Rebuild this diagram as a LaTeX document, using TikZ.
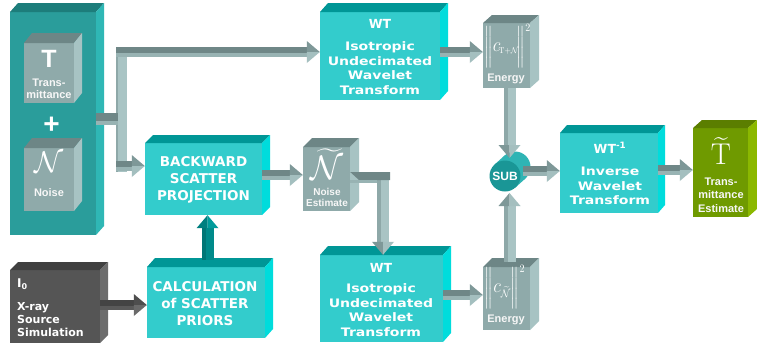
\RequirePackage{fix-cm}
\documentclass[tikz,border=0pt]{standalone}
\usepackage{amsmath}
\usepackage[no-math]{fontspec}
\setmainfont{DejaVu Sans}
\newfontfamily\arl{Liberation Sans}
\newfontfamily\wfont{DejaVu Sans}[FakeStretch=1.2]
\usetikzlibrary{calc,fit}
% box colours: F front, T top, S side
\definecolor{tlF}{HTML}{33CCCC}\definecolor{tlT}{HTML}{009696}\definecolor{tlS}{HTML}{00DCDC}
\definecolor{clF}{HTML}{2A9D9B}\definecolor{clT}{HTML}{1D7D7B}\definecolor{clS}{HTML}{2FB7B5}
\definecolor{gyF}{HTML}{8FAAAA}\definecolor{gyT}{HTML}{6D8686}\definecolor{gyS}{HTML}{A7C3C3}
\definecolor{dkF}{HTML}{555555}\definecolor{dkT}{HTML}{404040}\definecolor{dkS}{HTML}{6C6C6C}
\definecolor{grF}{HTML}{6F9A00}\definecolor{grT}{HTML}{5B7E00}\definecolor{grS}{HTML}{8BB800}
% arrow colours: B band top, L band front, H head upper, K head lower, E vertical edge, V vertical face
\definecolor{arB}{HTML}{6F8787}\definecolor{arL}{HTML}{98B3B3}\definecolor{arH}{HTML}{7E9898}
\definecolor{arK}{HTML}{A4BFBF}\definecolor{arE}{HTML}{8EA8A8}\definecolor{arV}{HTML}{A9C4C4}
\definecolor{daB}{HTML}{444444}\definecolor{daL}{HTML}{5A5A5A}\definecolor{daH}{HTML}{4E4E4E}
\definecolor{daK}{HTML}{6A6A6A}
\definecolor{taE}{HTML}{007676}\definecolor{taV}{HTML}{008A8A}\definecolor{taH}{HTML}{007F7F}
\definecolor{taK}{HTML}{009B9B}
\definecolor{subF}{HTML}{1A9696}\definecolor{subB}{HTML}{2FB4B4}
% 3D box: name, nw corner, se corner, colour prefix, depth
\newcommand\cube[5]{%
  \coordinate (#1-nw) at (#2); \coordinate (#1-se) at (#3);
  \coordinate (#1-ne) at (#1-se |- #1-nw);
  \fill[#4F] (#1-nw) rectangle (#1-se);
  \fill[#4T] (#1-nw) -- ++(#5) -- ($(#1-ne)+(#5)$) -- (#1-ne) -- cycle;
  \fill[#4S] (#1-ne) -- ++(#5) -- ($(#1-se)+(#5)$) -- (#1-se) -- cycle;
  \node[fit=(#1-nw)(#1-se), inner sep=0pt] (#1) {};}
% horizontal 3D arrow: colour prefix, start, tip
\newcommand\harr[3]{%
  \coordinate (ha) at (#2 |- #3); \coordinate (hb) at (#3);
  \fill[#1B] ($(ha)+(0pt,5pt)$) rectangle ($(hb)+(-13pt,-1pt)$);
  \fill[#1L] ($(ha)+(0pt,-1pt)$) rectangle ($(hb)+(-13pt,-5pt)$);
  \fill[#1H] ($(hb)+(-13pt,11pt)$) -- (hb) -- ($(hb)+(-13pt,0pt)$) -- cycle;
  \fill[#1K] ($(hb)+(-13pt,-11pt)$) -- (hb) -- ($(hb)+(-13pt,0pt)$) -- cycle;}
% vertical 3D arrow: colour prefix, start, tip, sign (1 down, -1 up)
\newcommand\varr[4]{%
  \coordinate (va) at (#3 |- #2); \coordinate (vb) at (#3);
  \fill[#1E] ($(va)+(-6pt,0pt)$) rectangle ($(vb)+(-2pt,#4*13pt)$);
  \fill[#1V] ($(va)+(-2pt,0pt)$) rectangle ($(vb)+(6pt,#4*13pt)$);
  \fill[#1H] ($(vb)+(-11pt,#4*13pt)$) -- (vb) -- ($(vb)+(0pt,#4*13pt)$) -- cycle;
  \fill[#1K] ($(vb)+(11pt,#4*13pt)$) -- (vb) -- ($(vb)+(0pt,#4*13pt)$) -- cycle;}
\tikzset{
  lab/.style={text=white, align=center, inner sep=0pt, font=\wfont\bfseries\fontsize{11.7}{14.7}\selectfont},
  hd/.style={text=white, inner sep=0pt, font=\bfseries\fontsize{12.5}{14}\selectfont},
  big/.style={text=white, align=center, inner sep=0pt, font=\bfseries\fontsize{13.5}{17}\selectfont},
  small/.style={text=white!94!gray, align=center, inner sep=0pt, font=\arl\bfseries\fontsize{11}{12.5}\selectfont},
  src/.style={text=white, align=left, inner sep=0pt, anchor=west, font=\bfseries\fontsize{11}{13}\selectfont},
  sym/.style={text=white, inner sep=0pt},
  frm/.style={text=white, inner sep=0pt, anchor=west, xscale=0.9, transform shape, font=\fontsize{16}{16}\selectfont},
}
\begin{document}
\begin{tikzpicture}[x=1pt,y=-1pt]
\useasboundingbox (0,0) rectangle (757,349);
\fill[white] (0,0) rectangle (757,349);
% boxes
\cube{col}{10,12}{96,235}{cl}{8,-9}
\cube{tbox}{24,43}{74,103}{gy}{8,-10}
\cube{nbox}{24,148}{74,211}{gy}{8,-10}
\cube{wt1}{320,12}{440,100}{tl}{8,-9}
\cube{en1}{483,23}{530,88}{gy}{9,-8}
\cube{bsp}{145,143}{262,215}{tl}{8,-8}
\cube{ne}{303,147}{350,211}{gy}{9,-9}
\cube{srcb}{10,270}{100,343}{dk}{8,-8}
\cube{calc}{147,267}{265,338}{tl}{8,-9}
\cube{wt2}{320,255}{443,342}{tl}{8,-9}
\cube{en2}{483,267}{530,330}{gy}{9,-9}
\cube{inv}{560,133}{658,213}{tl}{7,-8}
\cube{te}{693,128}{748,217}{gr}{9,-8}
% SUB cylinder
\coordinate (s1) at (505,176); \coordinate (s2) at (515,167);
\fill[subB] (s2) circle (15.5pt);
\fill[subB] ($(s1)!15.5pt!90:(s2)$) -- ($(s2)!15.5pt!-90:(s1)$) -- ($(s2)!15.5pt!90:(s1)$) -- ($(s1)!15.5pt!-90:(s2)$) -- cycle;
\node[circle, fill=subF, minimum size=31pt, inner sep=0pt, text=white, font=\arl\bfseries\fontsize{12}{12}\selectfont] (sub) at (s1) {SUB};
% texts
\node[sym, font=\arl\bfseries\fontsize{25}{25}\selectfont] (tT) at (49,59) {T};
\node[small] (tl) at (49,89) {Trans-\\mittance};
\node[sym, font=\arl\bfseries\fontsize{28}{28}\selectfont] (plus) at (51.5,125) {+};
\node[sym, font=\fontsize{30}{30}\selectfont] (nN) at (49,162) {$\mathcal{N}$};
\node[small] (nl) at (49,193) {Noise};
\node[hd] (w1h) at (380,24) {WT};
\node[lab] (w1t) at (380,68) {Isotropic\\Undecimated\\Wavelet\\Transform};
\node[frm] (e1f) at (484,46) {$\bigg\|\mbox{\fontsize{20}{20}\selectfont$c$}_{\!\mbox{\fontsize{8.5}{8.5}\selectfont$\mathrm{T}{+}\mathcal{N}$}}\!\bigg\|^{2}$};
\node[small] (e1l) at (506,79) {Energy};
\node[big] (bspt) at (203.5,180) {BACKWARD\\SCATTER\\PROJECTION};
\node[sym, font=\fontsize{34}{34}\selectfont] (neN) at (327,164) {$\widetilde{\mathcal{N}}$};
\node[small, font=\arl\bfseries\fontsize{10}{11.5}\selectfont] (nel) at (327,197.5) {Noise\\Estimate};
\node[src, font=\bfseries\fontsize{12}{12}\selectfont] (i0) at (17,284) {I\textsubscript{0}};
\node[src] (srct) at (17,320) {X-ray\\Source\\Simulation};
\node[big] (calct) at (205,304) {CALCULATION\\of SCATTER\\PRIORS};
\node[hd] (w2h) at (381,268) {WT};
\node[lab] (w2t) at (381,310) {Isotropic\\Undecimated\\Wavelet\\Transform};
\node[frm] (e2f) at (484.5,287) {$\bigg\|\mbox{\fontsize{20}{20}\selectfont$c$}_{\mbox{\fontsize{11}{11}\selectfont$\widetilde{\mathcal{N}}$}}\bigg\|^{2}$};
\node[small] (e2l) at (506,320) {Energy};
\node[hd] (ivh) at (610,148) {WT\textsuperscript{-1}};
\node[lab] (ivt) at (610,186) {Inverse\\Wavelet\\Transform};
\node[sym, font=\fontsize{30}{30}\selectfont] (teT) at (721,151) {$\widetilde{\mathrm{T}}$};
\node[small, font=\arl\bfseries\fontsize{11}{13.5}\selectfont] (tet) at (721,195) {Trans-\\mittance\\Estimate};
% connectors
\coordinate (sp1) at (116,52); \coordinate (sp2) at (116,166);
\fill[arE] (116,47) rectangle (118,172);
\fill[arV] (118,47) rectangle (127,172);
\fill[arB] (col.east |- 0,113) rectangle (118,121);
\fill[arL] (col.east |- 0,121) rectangle (118,125);
\coordinate (a1t) at (wt1.west |- sp1); \harr{ar}{sp1}{a1t}
\coordinate (a1b) at (bsp.west |- sp2); \harr{ar}{sp2}{a1b}
\coordinate (a2s) at (bsp.east |- 0,175); \coordinate (a2t) at (ne.west |- 0,175);
\harr{ar}{a2s}{a2t}
\coordinate (a3s) at (383,178); \coordinate (a3t) at (383,0 |- wt2.north);
\varr{ar}{a3s}{a3t}{1}
\fill[arB] (ne.east |- 0,172) -- (390,172) -- (390,180) -- (359,180) -- cycle;
\fill[arL] (ne.east |- 0,180) rectangle (377,183);
\coordinate (a4s) at (wt1.east |- 0,52); \coordinate (a4t) at (en1.west |- 0,52);
\harr{ar}{a4s}{a4t}
\coordinate (a5s) at (509.5,0 |- en1.south); \coordinate (a5t) at (509.5,158);
\varr{ar}{a5s}{a5t}{1}
\coordinate (a6s) at (509.5,262); \coordinate (a6t) at (509.5,193);
\varr{ar}{a6s}{a6t}{-1}
\coordinate (a7s) at (523,171); \coordinate (a7t) at (inv.west |- a7s);
\harr{ar}{a7s}{a7t}
\coordinate (a8s) at (inv.east |- 0,170); \coordinate (a8t) at (te.west |- a8s);
\harr{ar}{a8s}{a8t}
\coordinate (a9s) at (wt2.east |- 0,295); \coordinate (a9t) at (en2.west |- a9s);
\harr{ar}{a9s}{a9t}
\coordinate (a10s) at (srcb.east |- 0,305); \coordinate (a10t) at (calc.west |- a10s);
\harr{da}{a10s}{a10t}
\coordinate (a11s) at (207.5,260); \coordinate (a11t) at (207.5,0 |- bsp.south);
\varr{ta}{a11s}{a11t}{-1}
\end{tikzpicture}
\end{document}
